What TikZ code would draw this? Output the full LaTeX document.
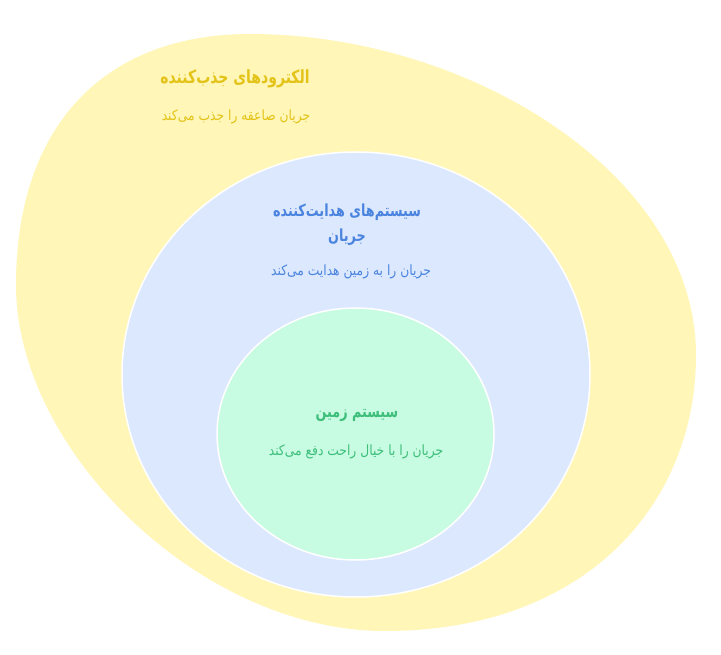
\documentclass[tikz,border=0pt]{standalone}
\usepackage{fontspec}
\usepackage{graphicx}
\usetikzlibrary{shapes.geometric}
\TeXXeTstate=1
\newfontfamily\arabicfont[Script=Arabic]{DejaVu Sans}
\definecolor{yfill}{HTML}{FFF6B8}
\definecolor{bfill}{HTML}{DCE8FE}
\definecolor{gfill}{HTML}{C8FCE2}
\definecolor{ytext}{HTML}{E3C317}
\definecolor{btext}{HTML}{4A84DE}
\definecolor{gtext}{HTML}{3DBE7A}
\tikzset{
  titletext/.style={font=\arabicfont\bfseries\fontsize{#1}{25}\selectfont, align=center, inner sep=0pt},
  titletext/.default=13,
  subtext/.style={font=\arabicfont\fontsize{12.3}{14}\selectfont, inner sep=0pt},
  ring/.style={draw=white, line width=1.5pt}
}
\begin{document}
\begin{tikzpicture}[x=1pt,y=-1pt]
\useasboundingbox (0,0) rectangle (721,655);
% outer blob
\fill[yfill] (250,34) .. controls (470,34) and (696,175) .. (696,355)
  .. controls (696,505) and (585,631) .. (385,631)
  .. controls (200,631) and (16,450) .. (16,285)
  .. controls (16,125) and (105,34) .. (250,34) -- cycle;
\node[ring, fill=bfill, ellipse, minimum width=468pt, minimum height=445pt, inner sep=0pt] (blue) at (356,374.5) {};
\node[ring, fill=gfill, ellipse, minimum width=277pt, minimum height=252pt, inner sep=0pt] (green) at (355.5,434) {};
% texts
\node[titletext=14, text=ytext] (t1) at (235,79) {\scalebox{1}[1.3]{\beginR الکترودهای جذب‌کننده\endR}};
\node[subtext, text=ytext] (s1) at (236,117) {\scalebox{1}[1.15]{\beginR جریان صاعقه را جذب می‌کند\endR}};
\node[titletext=12.8, text=btext] (t2) at (347,225) {\scalebox{1}[1.3]{\beginR سیستم‌های هدایت‌کننده\endR}\\\scalebox{1}[1.3]{\beginR جریان\endR}};
\node[subtext, text=btext] (s2) at (351,272) {\scalebox{1}[1.15]{\beginR جریان را به زمین هدایت می‌کند\endR}};
\node[titletext=12.8, text=gtext] (t3) at (357,415) {\scalebox{1}[1.3]{\beginR سیستم زمین\endR}};
\node[subtext, text=gtext] (s3) at (356,452) {\scalebox{1}[1.15]{\beginR جریان را با خیال راحت دفع می‌کند\endR}};
\end{tikzpicture}
\end{document}
